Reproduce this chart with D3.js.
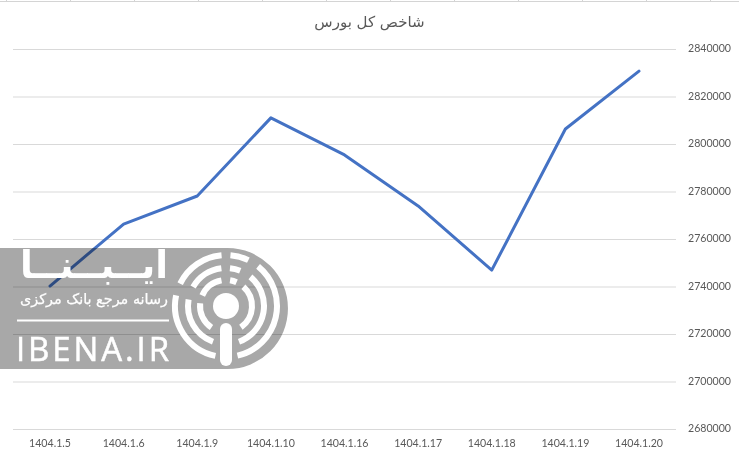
<!DOCTYPE html>
<html><head><meta charset="utf-8">
<script src="https://cdnjs.cloudflare.com/ajax/libs/d3/7.8.5/d3.min.js"></script>
<style>
html,body{margin:0;padding:0;background:#fff;overflow:hidden}
svg{display:block}
.lab{font-family:Lato,"Open Sans",sans-serif;font-size:10.6px;fill:#595959}
</style></head><body>
<svg id="c" width="739" height="459"></svg>
<script>
const categories=["1404.1.5","1404.1.6","1404.1.9","1404.1.10","1404.1.16","1404.1.17","1404.1.18","1404.1.19","1404.1.20"];
const indexValues=[2740200,2766300,2778100,2811000,2795400,2773900,2746900,2806300,2830700];
const yTicks=[2680000,2700000,2720000,2740000,2760000,2780000,2800000,2820000,2840000];
const titleText="شاخص کل بورس";
const sheetColumns=[0,1,2,3,4,5,6,7,8,9,10,11];
const outerArcs=[[192,282],[296,355],[5,26],[39,167]];
const middleArcs=[[200,280],[300,353],[6,22],[40,160]];
const innerArcs=[[214,276],[294,350],[9,24],[42,145]];

(function(){
const svg=d3.select("#c");
svg.append("line").attr("x1",0).attr("x2",739).attr("y1",1.5).attr("y2",1.5).attr("stroke","#d4d4d4");
svg.selectAll(".col").data(sheetColumns).join("line").attr("class","col")
  .attr("x1",d=>6.5+64*d).attr("x2",d=>6.5+64*d).attr("y1",0).attr("y2",1).attr("stroke","#d4d4d4");

const x=d3.scalePoint().domain(categories).range([50,639]);
const y=d3.scaleLinear().domain([2680000,2840000]).range([429,49]);
const L=13,R=676;

const grid=svg.append("g").attr("transform",`translate(${L},0)`)
  .call(d3.axisLeft(y).tickValues(yTicks).tickSize(-(R-L)).tickFormat(""));
grid.select(".domain").remove();
grid.selectAll("line").attr("stroke","#d9d9d9").attr("stroke-width",1);

const ya=svg.append("g").attr("transform",`translate(${R},-0.7)`)
  .call(d3.axisRight(y).tickValues(yTicks).tickSize(0).tickPadding(12).tickFormat(d3.format("d")));
ya.select(".domain").remove();
ya.selectAll("text").attr("class","lab");
ya.attr("font-family",null).attr("font-size",null);

const xa=svg.append("g").attr("transform","translate(-0.5,429)")
  .call(d3.axisBottom(x).tickSize(0).tickPadding(10.5));
xa.select(".domain").remove();
xa.selectAll("text").attr("class","lab");
xa.attr("font-family",null).attr("font-size",null);

const line=d3.line().x((d,i)=>x(categories[i])).y(d=>y(d));
svg.append("path").datum(indexValues).attr("d",line).attr("fill","none")
  .attr("stroke","#4472c4").attr("stroke-width",3).attr("stroke-linecap","round").attr("stroke-linejoin","round");

svg.append("text").attr("x",369.5).attr("y",26.5).attr("text-anchor","middle")
  .attr("font-family","'DejaVu Sans',sans-serif").attr("font-size",15).attr("fill","#595959")
  .attr("direction","rtl").text(titleText);

const logo=svg.append("g");
const cx=227.5,r=60.5,yTop=248,yBot=369;
logo.append("path").attr("d",`M0 ${yTop}H${cx}A${r} ${r} 0 0 1 ${cx} ${yBot}H0Z`).attr("fill","#a8a8a8").style("mix-blend-mode","multiply");
const W="#fff";
logo.append("text").attr("x",168).attr("y",278).attr("text-anchor","start").attr("direction","rtl")
  .attr("font-family","'DejaVu Sans',sans-serif").attr("font-weight","bold").attr("font-size",38).attr("fill",W)
  .attr("textLength",148).attr("lengthAdjust","spacingAndGlyphs").text("ایــبــنــا");
logo.append("text").attr("x",168).attr("y",304).attr("text-anchor","start").attr("direction","rtl")
  .attr("font-family","'DejaVu Sans',sans-serif").attr("font-size",14.5).attr("fill",W).attr("stroke",W).attr("stroke-width",0.25)
  .attr("textLength",148).attr("lengthAdjust","spacingAndGlyphs").text("رسانه مرجع بانک مرکزی");
logo.append("rect").attr("x",17).attr("y",319.5).attr("width",152).attr("height",2).attr("fill",W);
logo.append("text").attr("x",16).attr("y",361).attr("font-family","'Liberation Sans Narrow','Open Sans',sans-serif")
  .attr("font-size",33).attr("fill",W).attr("stroke",W).attr("stroke-width",0.5).attr("textLength",153).attr("lengthAdjust","spacing").text("IBENA.IR");

const ex=226,ey=306;
const arc=(rad)=>d3.arc().innerRadius(rad).outerRadius(rad).startAngle(d=>d[0]*Math.PI/180).endAngle(d=>d[1]*Math.PI/180);
[[51,outerArcs],[38,middleArcs],[26,innerArcs]].forEach(([rad,set])=>{
  logo.append("g").attr("transform",`translate(${ex},${ey})`).selectAll("path").data(set).join("path")
    .attr("d",arc(rad)).attr("fill","none").attr("stroke",W).attr("stroke-width",6).attr("stroke-linecap","round");
});
logo.append("circle").attr("cx",ex).attr("cy",ey).attr("r",13).attr("fill",W);
logo.append("rect").attr("x",ex-6).attr("y",323).attr("width",12).attr("height",43).attr("rx",6).attr("fill",W);
})();
</script></body></html>
